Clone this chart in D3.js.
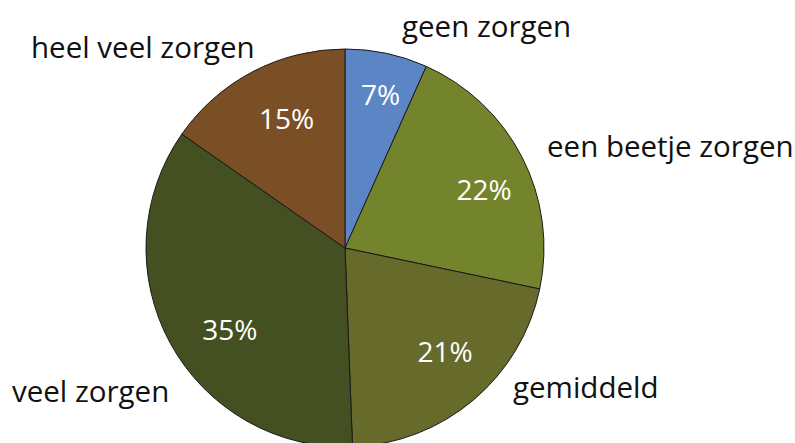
<!DOCTYPE html>
<html>
<head>
<meta charset="utf-8">
<script src="https://cdn.jsdelivr.net/npm/d3@7"></script>
<style>
  html, body { margin: 0; padding: 0; background: #ffffff; }
  svg { display: block; }
</style>
</head>
<body>
<svg id="chart"></svg>
<script>
const categories = ['geen zorgen', 'een beetje zorgen', 'gemiddeld', 'veel zorgen', 'heel veel zorgen'];
const values = [6.7, 21.6, 21.1, 35.3, 15.3];
const percentLabels = ['7%', '22%', '21%', '35%', '15%'];
const colors = ['#5b85c5', '#74842c', '#666a2a', '#445022', '#7b4f25'];

const WIDTH = 795;
const HEIGHT = 443;
const CX = 345;
const CY = 248;
const RADIUS = 199;
const LABEL_RADIUS = 146;
const FONT = '"Open Sans", "Noto Sans", sans-serif';

// nudges of the percent labels away from the plain centroid
const pctOffset = [[5, -10], [9, 8], [6, -8], [13, 12], [9, 0]];

// outside category labels: x, baseline y
const namePlacement = [
  { x: 402, y: 37 },
  { x: 547, y: 157 },
  { x: 513, y: 398 },
  { x: 12, y: 402 },
  { x: 31, y: 58 }
];

const root = d3.select('#chart')
  .attr('width', WIDTH)
  .attr('height', HEIGHT)
  .attr('viewBox', `0 0 ${WIDTH} ${HEIGHT}`);

const pie = d3.pie().sort(null).value((d) => d.value);
const arc = d3.arc().innerRadius(0).outerRadius(RADIUS);
const labelArc = d3.arc().innerRadius(LABEL_RADIUS).outerRadius(LABEL_RADIUS);

const data = categories.map((name, i) => ({
  name,
  value: values[i],
  label: percentLabels[i],
  color: colors[i]
}));

const arcs = pie(data);

const g = root.append('g')
  .attr('transform', `translate(${CX}, ${CY})`);

g.selectAll('path')
  .data(arcs)
  .join('path')
  .attr('d', arc)
  .attr('fill', (d) => d.data.color)
  .attr('stroke', '#1a1a1a')
  .attr('stroke-width', 1);

g.selectAll('text.pct')
  .data(arcs)
  .join('text')
  .attr('class', 'pct')
  .attr('transform', (d, i) => {
    const [x, y] = labelArc.centroid(d);
    return `translate(${x + pctOffset[i][0]}, ${y + pctOffset[i][1]})`;
  })
  .attr('dy', '0.36em')
  .attr('text-anchor', 'middle')
  .attr('fill', '#ffffff')
  .attr('font-size', 28)
  .attr('font-family', FONT)
  .text((d) => d.data.label);

root.selectAll('text.name')
  .data(data)
  .join('text')
  .attr('class', 'name')
  .attr('x', (d, i) => namePlacement[i].x)
  .attr('y', (d, i) => namePlacement[i].y)
  .attr('fill', '#111111')
  .attr('font-size', 29.5)
  .attr('font-family', FONT)
  .text((d) => d.name);
</script>
</body>
</html>
